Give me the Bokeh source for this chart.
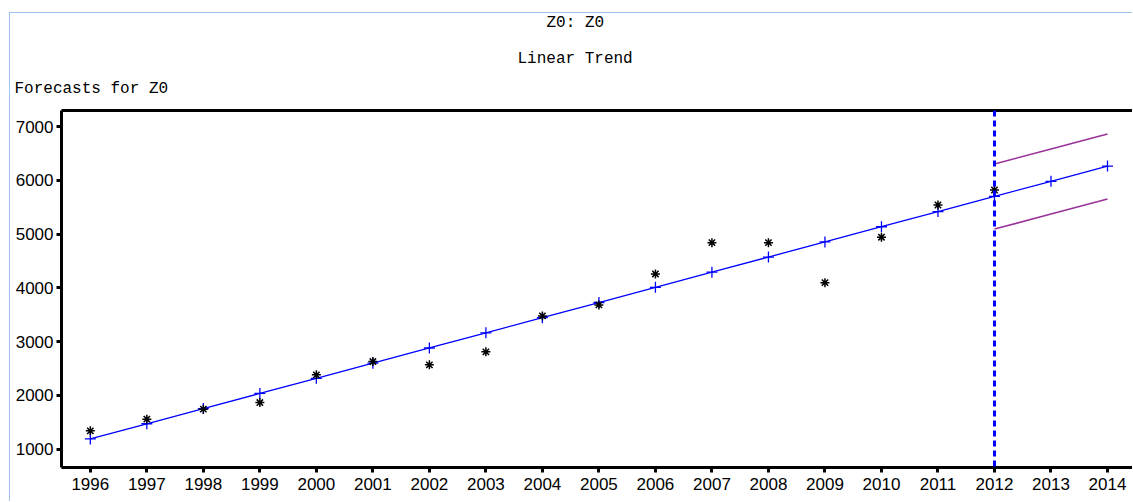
from bokeh.plotting import figure
from bokeh.models import Span, Title, FixedTicker, Range1d, LinearAxis
from bokeh.embed import file_html
from bokeh.resources import INLINE

# Observed series Z0 and its linear-trend fit / forecasts
years = [1996, 1997, 1998, 1999, 2000, 2001, 2002, 2003, 2004,
         2005, 2006, 2007, 2008, 2009, 2010, 2011, 2012]
actual = [1340, 1558, 1744, 1867, 2382, 2629, 2568, 2810, 3479,
          3684, 4260, 4842, 4842, 4098, 4943, 5543, 5822]

fit_years = [1996, 1997, 1998, 1999, 2000, 2001, 2002, 2003, 2004, 2005,
             2006, 2007, 2008, 2009, 2010, 2011, 2012, 2013, 2014]
fitted = [1190, 1472, 1754, 2036, 2318, 2600, 2882, 3164, 3446, 3728,
          4010, 4292, 4574, 4856, 5138, 5420, 5702, 5984, 6266]

fc_years = [2012, 2013, 2014]
upper = [6306, 6585, 6864]
lower = [5095, 5374, 5653]

forecast_origin = 2012
y_ticks = [1000, 2000, 3000, 4000, 5000, 6000, 7000]

MONO = "Liberation Mono"
SANS = "Liberation Sans"

p = figure(width=1123, height=489, output_backend="svg", toolbar_location=None,
           x_range=Range1d(1995.49, 2014.46), y_range=Range1d(658, 7301),
           min_border_left=51, min_border_right=0, min_border_top=97,
           min_border_bottom=35, title_location=None)
p.styles = {"margin-left": "9px", "margin-top": "12px",
            "border-left": "1px solid #9fc3ef", "border-top": "1px solid #9fc3ef"}
p.outline_line_color = None
p.grid.visible = False
p.background_fill_color = "white"

# axes
for ax in (p.xaxis[0], p.yaxis[0]):
    ax.axis_line_width = 3
    ax.axis_line_color = "black"
    ax.major_tick_line_width = 3
    ax.major_tick_line_color = "black"
    ax.major_tick_in = 0
    ax.major_tick_out = 5
    ax.minor_tick_line_color = None
    ax.major_label_text_font = SANS
    ax.major_label_text_font_size = "17px"
    ax.major_label_text_color = "black"
p.xaxis.ticker = FixedTicker(ticks=fit_years)
p.xaxis.major_label_standoff = 5
p.yaxis.ticker = FixedTicker(ticks=y_ticks)
p.yaxis.major_label_standoff = 3

# top border of the frame
top = LinearAxis(axis_line_width=3, axis_line_color="black",
                 major_tick_line_color=None, minor_tick_line_color=None,
                 major_label_text_font_size="0px", major_label_standoff=0)
top.ticker = FixedTicker(ticks=[])
p.add_layout(top, "above")

# headings, stacked outward from the frame with blank spacers between them
def heading(text, offset, standoff=0):
    return Title(text=text, align="left", offset=offset, standoff=standoff,
                 text_font=MONO, text_font_size="16px", text_font_style="normal",
                 text_color="black")

def spacer(gap):
    return Title(text=" ", text_font_size="1px", standoff=gap)

p.add_layout(spacer(9.5), "above")
p.add_layout(heading("Forecasts for Z0", -47), "above")
p.add_layout(spacer(7), "above")
p.add_layout(heading("Linear Trend", 456), "above")
p.add_layout(spacer(15), "above")
p.add_layout(heading("Z0: Z0", 485, -4), "above")

# fitted trend and forecasts
p.line(fit_years, fitted, line_color="#0000ff", line_width=1.3)
p.scatter(fit_years, fitted, marker="cross", size=11, line_color="#0000ff", line_width=1.3)

# prediction interval
p.line(fc_years, upper, line_color="#993399", line_width=1.6)
p.line(fc_years, lower, line_color="#993399", line_width=1.6)

# observations
p.scatter(years, actual, marker="asterisk", size=9, line_color="black", line_width=1.5)

# forecast origin
p.add_layout(Span(location=forecast_origin, dimension="height", line_color="#0000ff",
                  line_width=3, line_dash="6 4"))

open("out.html", "w").write(file_html(p, INLINE))
